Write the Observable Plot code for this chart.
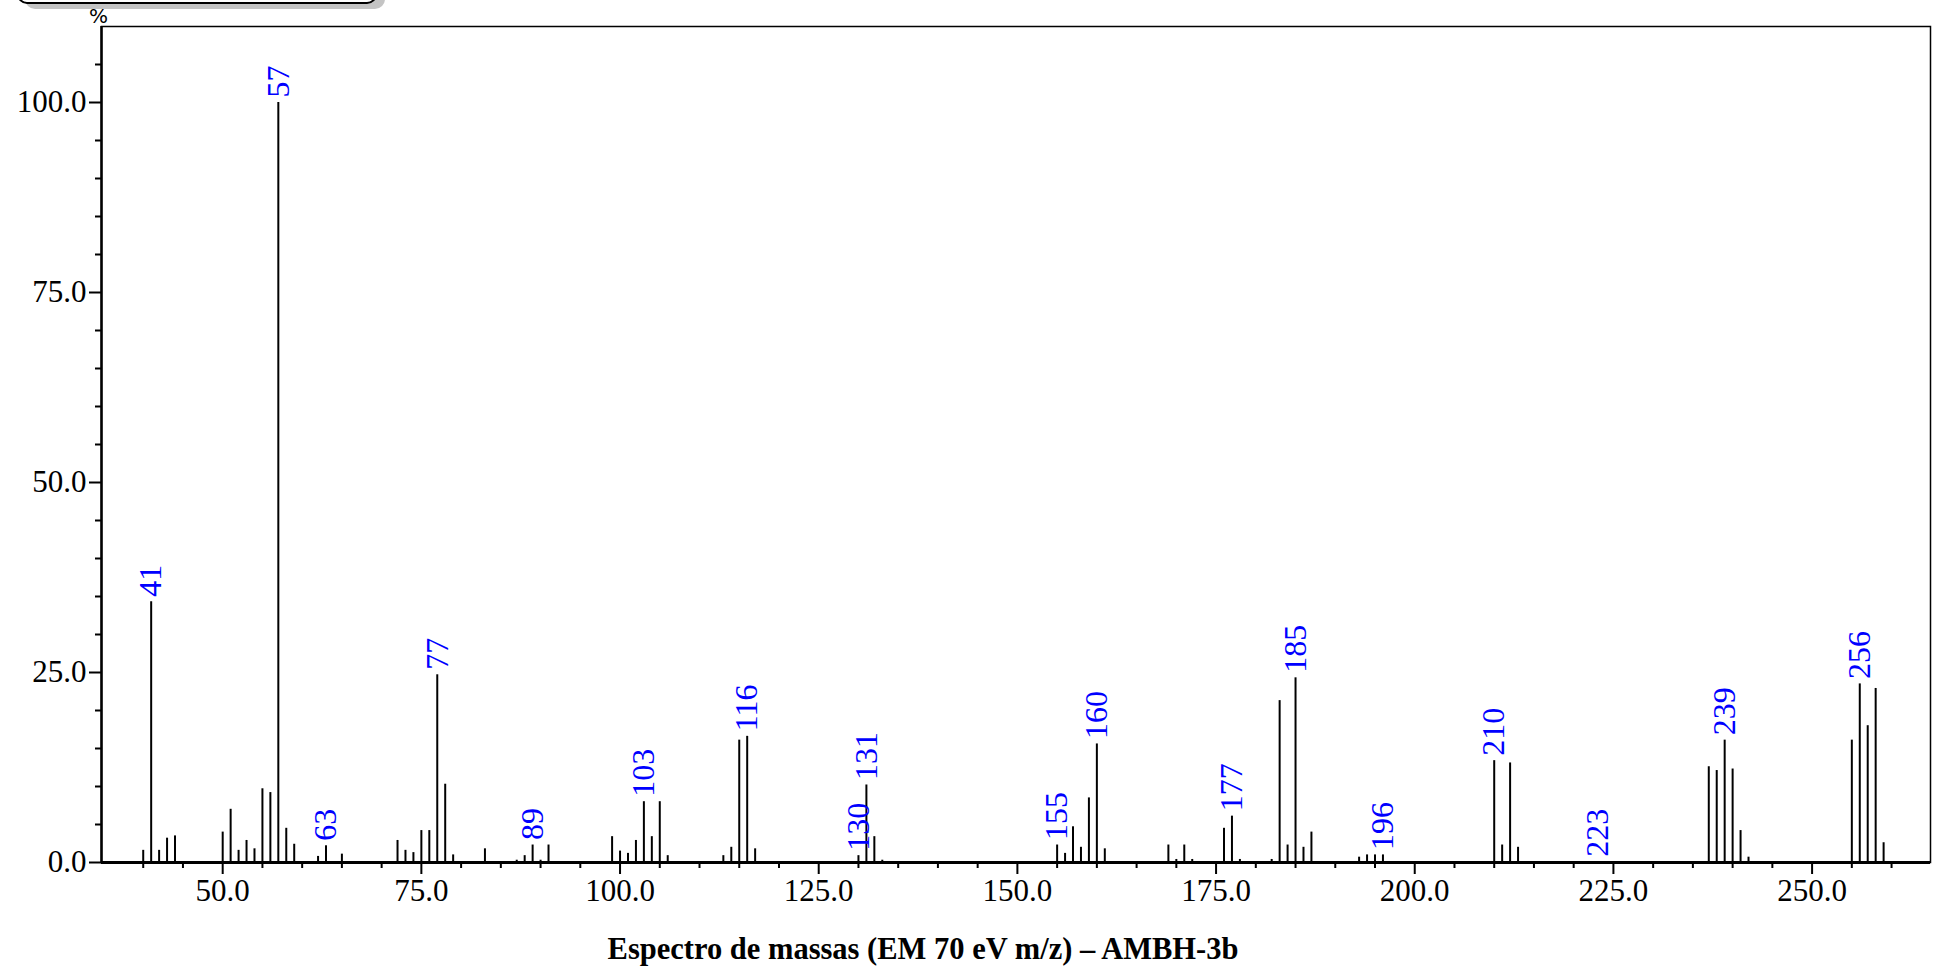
<!DOCTYPE html>
<html>
<head>
<meta charset="utf-8">
<script src="https://cdn.jsdelivr.net/npm/d3@7"></script>
<script src="https://cdn.jsdelivr.net/npm/@observablehq/plot@0.6"></script>
<style>
  html, body { margin: 0; padding: 0; background: white; }
  #wrap { position: relative; width: 1946px; height: 971px; overflow: hidden; }
  #tab { position: absolute; left: 17px; top: -24px; width: 356px; height: 24px;
         border: 2px solid #000; border-radius: 10px; background: #fff;
         box-shadow: 8px 5px 0 #c4c4c4; }
  #chart { position: absolute; left: 0; top: 0; }
</style>
</head>
<body>
<div id="wrap"><div id="chart"></div><div id="tab"></div></div>
<script>
// m/z values and relative intensities (%)
const mz = [40, 41, 42, 43, 44, 50, 51, 52, 53, 54, 55, 56, 57, 58, 59, 62, 63, 65,
  72, 73, 74, 75, 76, 77, 78, 79, 83, 87, 88, 89, 90, 91,
  99, 100, 101, 102, 103, 104, 105, 106, 113, 114, 115, 116, 117,
  130, 131, 132, 133, 155, 156, 157, 158, 159, 160, 161,
  169, 170, 171, 172, 176, 177, 178, 182, 183, 184, 185, 186, 187,
  193, 194, 195, 196, 210, 211, 212, 213, 223,
  237, 238, 239, 240, 241, 242, 255, 256, 257, 258, 259];
const pct = [1.6, 34.3, 1.6, 3.2, 3.5, 4.0, 7.0, 1.6, 2.9, 1.8, 9.7, 9.2, 100, 4.5, 2.4, 0.8, 2.2, 1.1,
  2.9, 1.6, 1.3, 4.2, 4.2, 24.7, 10.3, 1.0, 1.8, 0.3, 0.9, 2.3, 0.3, 2.3,
  3.4, 1.5, 1.2, 2.9, 8.0, 3.4, 8.0, 0.9, 0.9, 2.0, 16.1, 16.6, 1.8,
  0.9, 10.2, 3.4, 0.3, 2.3, 1.2, 4.7, 2.0, 8.5, 15.6, 1.8,
  2.3, 0.4, 2.3, 0.4, 4.5, 6.1, 0.4, 0.4, 21.3, 2.3, 24.3, 2.0, 4.0,
  0.7, 1.0, 1.0, 1.0, 13.4, 2.3, 13.1, 2.0, 0.1,
  12.6, 12.1, 16.1, 12.3, 4.2, 0.7, 16.1, 23.5, 18.0, 22.9, 2.6];
const labeledMz = [41, 57, 63, 77, 89, 103, 116, 130, 131, 155, 160, 177, 185, 196, 210, 223, 239, 256];

const xMajor = [50, 75, 100, 125, 150, 175, 200, 225, 250];
const xMinor = d3.range(40, 261, 5).filter(v => v % 25 !== 0);
const yMajor = [0, 25, 50, 75, 100];
const yMinor = d3.range(5, 110, 5).filter(v => v % 25 !== 0);
const xDomain = [34.75, 264.9];
const yDomain = [0, 110];
const yUnit = "%";
const title = "Espectro de massas (EM 70 eV m/z) – AMBH-3b";

const peaks = mz.map((m, i) => ({mz: m, pct: pct[i]}));
const labels = peaks.filter(d => labeledMz.includes(d.mz));

const serif = "'Liberation Serif', 'Times New Roman', serif";
const fmt = d => d.toFixed(1);

const chart = Plot.plot({
  width: 1946,
  height: 971,
  marginTop: 26,
  marginBottom: 109,
  marginLeft: 101,
  marginRight: 16,
  x: {domain: xDomain},
  y: {domain: yDomain},
  style: {fontFamily: serif, background: "white", color: "black", overflow: "visible"},
  marks: [
    Plot.ruleX(peaks, {x: "mz", y1: 0, y2: "pct", stroke: "black", strokeWidth: 2}),
    Plot.text(labels, {x: "mz", y: "pct", text: d => String(d.mz), rotate: -90,
      textAnchor: "start", dy: -5, fill: "#0000ff", fontSize: 32, fontFamily: serif}),
    Plot.axisX({ticks: xMajor, tickSize: 12, tickPadding: 4, tickFormat: fmt,
      fontSize: 31, label: null, strokeWidth: 2}),
    Plot.axisX({ticks: xMinor, tickSize: 6, tickFormat: () => "", label: null, strokeWidth: 2}),
    Plot.axisY({ticks: yMajor, tickSize: 12, tickPadding: 3, tickFormat: fmt,
      fontSize: 31, label: null, strokeWidth: 2}),
    Plot.axisY({ticks: yMinor, tickSize: 6, tickFormat: () => "", label: null, strokeWidth: 2}),
    Plot.frame({stroke: "black", strokeWidth: 1.5}),
    Plot.ruleY([0], {stroke: "black", strokeWidth: 3}),
    Plot.ruleX([xDomain[0]], {stroke: "black", strokeWidth: 2.5}),
    Plot.text([yUnit], {text: d => d, frameAnchor: "top-left", textAnchor: "middle",
      lineAnchor: "bottom", dx: -3, dy: -4, fontSize: 20, fontFamily: "DejaVu Sans"}),
    Plot.text([title], {text: d => d, frameAnchor: "bottom", textAnchor: "middle",
      lineAnchor: "bottom", dx: -93, dy: 96, fontSize: 30.5, fontWeight: "bold", fontFamily: serif})
  ]
});
document.getElementById("chart").appendChild(chart);
</script>
</body>
</html>
